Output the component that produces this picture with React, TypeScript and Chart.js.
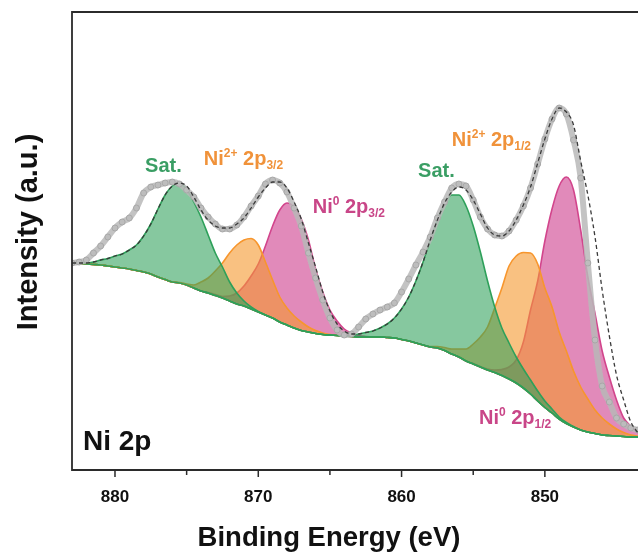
import React, { useEffect, useRef } from "react";
import { Chart, registerables } from "chart.js";

Chart.register(...registerables);

// Binding energy grid (eV)
const ENERGY = [
  883, 882.5, 882, 881.5, 881, 880.5, 880, 879.5, 879, 878.5,
  878, 877.5, 877, 876.5, 876, 875.5, 875, 874.5, 874, 873.5,
  873, 872.5, 872, 871.5, 871, 870.5, 870, 869.5, 869, 868.5,
  868, 867.5, 867, 866.5, 866, 865.5, 865, 864.5, 864, 863.5,
  863, 862.5, 862, 861.5, 861, 860.5, 860, 859.5, 859, 858.5,
  858, 857.5, 857, 856.5, 856, 855.5, 855, 854.5, 854, 853.5,
  853, 852.5, 852, 851.5, 851, 850.5, 850, 849.5, 849, 848.5,
  848, 847.5, 847, 846.5, 846, 845.5, 845, 844.5, 844, 843.5,
];

// Background (a.u.)
const BACKGROUND = [
  207, 206.5, 206, 205.5, 205, 204, 203, 202, 201, 199.5,
  198, 196, 193, 190.5, 188, 187, 185, 182, 179, 177,
  174.5, 172, 169, 166, 164, 161, 158, 155, 152, 148,
  145, 142, 139.5, 138, 136.5, 135.5, 135, 134.5, 134, 133.5,
  133, 133, 133, 133, 132.5, 132, 130.5, 129, 127, 125,
  123, 122, 119.5, 116, 113, 109, 106, 103, 100, 97.5,
  94.5, 91, 87, 82, 76, 69, 62.5, 57, 51, 46.5,
  43, 40, 38, 36.5, 35, 34.5, 34, 33.5, 33, 33,
];

// Fitted components: intensity above background (a.u.)
const SAT_1 = [
  0, 0.5, 1, 2.5, 5, 7.5, 11, 14, 19, 25.5,
  36, 50, 68, 84.5, 96, 100, 96, 86, 74, 58,
  42.5, 31, 19, 11, 5, 2, 0.5, 0, 0, 0,
  0, 0, 0, 0, 0, 0, 0, 0, 0, 0,
  0, 0, 0, 0, 0, 0, 0, 0, 0, 0,
  0, 0, 0, 0, 0, 0, 0, 0, 0, 0,
  0, 0, 0, 0, 0, 0, 0, 0, 0, 0,
  0, 0, 0, 0, 0, 0, 0, 0, 0, 0,
];

const NI2_2P32 = [
  0, 0, 0, 0, 0, 0, 0, 0, 0, 0,
  0, 0, 0, 0, 0, 0.5, 1, 3, 9, 15,
  24.5, 35, 48, 59, 66, 70.5, 67, 53, 38, 25,
  17, 12, 8.5, 5, 3, 1.5, 0.5, 0, 0, 0,
  0, 0, 0, 0, 0, 0, 0, 0, 0, 0,
  0, 0, 0, 0, 0, 0, 0, 0, 0, 0,
  0, 0, 0, 0, 0, 0, 0, 0, 0, 0,
  0, 0, 0, 0, 0, 0, 0, 0, 0, 0,
];

const NI0_2P32 = [
  0, 0, 0, 0, 0, 0, 0, 0, 0, 0,
  0, 0, 0, 0, 0, 0, 0, 0, 0, 0.5,
  1, 1.5, 5, 11, 20, 33, 48, 69, 92, 112,
  122, 121, 111.5, 92, 64.5, 42.5, 25, 14.5, 7, 3.5,
  1.5, 0.5, 0, 0, 0, 0, 0, 0, 0, 0,
  0, 0, 0, 0, 0, 0, 0, 0, 0, 0,
  0, 0, 0, 0, 0, 0, 0, 0, 0, 0,
  0, 0, 0, 0, 0, 0, 0, 0, 0, 0,
];

const SAT_2 = [
  0, 0, 0, 0, 0, 0, 0, 0, 0, 0,
  0, 0, 0, 0, 0, 0, 0, 0, 0, 0,
  0, 0, 0, 0, 0, 0, 0, 0, 0, 0,
  0, 0, 0, 0, 0, 0, 0, 0, 0, 1,
  3, 4.5, 6, 9, 13.5, 20, 30.5, 44, 62, 83,
  107, 128, 146.5, 159, 162, 155, 138, 115, 89, 65.5,
  47.5, 36, 26, 19, 14, 10, 6.5, 4, 2, 1,
  0.5, 0, 0, 0, 0, 0, 0, 0, 0, 0,
];

const NI2_2P12 = [
  0, 0, 0, 0, 0, 0, 0, 0, 0, 0,
  0, 0, 0, 0, 0, 0, 0, 0, 0, 0,
  0, 0, 0, 0, 0, 0, 0, 0, 0, 0,
  0, 0, 0, 0, 0, 0, 0, 0, 0, 0,
  0, 0, 0, 0, 0, 0, 0, 0, 0, 0,
  0.5, 1.5, 3, 5, 8, 12, 20, 30, 43, 64.5,
  87.5, 113, 127, 135.5, 141, 137, 119.5, 106, 87, 72.5,
  56, 43, 33, 23.5, 17, 11.5, 7, 4, 2, 1,
];

const NI0_2P12 = [
  0, 0, 0, 0, 0, 0, 0, 0, 0, 0,
  0, 0, 0, 0, 0, 0, 0, 0, 0, 0,
  0, 0, 0, 0, 0, 0, 0, 0, 0, 0,
  0, 0, 0, 0, 0, 0, 0, 0, 0, 0,
  0, 0, 0, 0, 0, 0, 0, 0, 0, 0,
  0, 0, 0, 0, 0, 0, 0.5, 0.5, 1, 2.5,
  6, 12, 23, 46, 84, 120, 166.5, 204, 233, 246.5,
  237, 200, 155, 120, 84, 58.5, 36, 18.5, 11, 4,
];

// Measured spectrum (a.u.)
const MEASURED = [
  207, 208, 210, 217, 224, 233, 242, 248, 252, 262,
  277, 283, 285, 287, 288, 286, 280, 273, 262, 253,
  246, 241, 241, 245, 253, 264, 274, 286, 290, 287,
  278, 262, 244, 217, 192, 170, 152, 140, 135, 136,
  143, 151, 156, 160, 163, 167, 178, 191, 205, 218,
  233, 252, 268, 282, 286, 284, 270, 253, 241, 235,
  234, 239, 250, 264, 282, 306, 331, 351, 362, 356,
  330, 292, 207, 130, 84, 68, 52, 46, 42, 40,
];

// Fit envelope (a.u.)
const ENVELOPE = [
  207, 207, 207, 208, 210, 211.5, 214, 216, 220, 225,
  234, 246, 261, 275, 284, 287, 284, 273, 260, 250,
  244, 242, 242, 246, 252, 262, 273, 282, 288, 288,
  282, 268, 251, 227, 203, 178, 159, 146, 139, 136,
  136, 137.5, 139, 142, 146, 152, 161, 173, 189, 208,
  230, 250, 267, 278, 283, 280, 270, 256, 242, 235,
  234, 239, 250, 265, 283, 307, 331, 351, 362, 358,
  345, 309, 275, 233, 180, 134, 95, 70, 48, 37,
];

const X_TICKS = [880, 875, 870, 865, 860, 855, 850];
const X_LABELED = [880, 870, 860, 850];
const X_MIN = 843.5;
const X_MAX = 883;
const Y_MAX = 458;
const ORANGE_BASE_FROM = 874.5; // baseline drawn in orange above this energy

const X_TITLE = "Binding Energy (eV)";
const Y_TITLE = "Intensity (a.u.)";
const PANEL_LABEL = "Ni 2p";

type Part = [string, "n" | "sup" | "sub"];
const LABELS: { e: number; i: number; kind: string; parts: Part[] }[] = [
  { e: 877.9, i: 298, kind: "green", parts: [["Sat.", "n"]] },
  { e: 873.8, i: 305, kind: "orange", parts: [["Ni", "n"], ["2+", "sup"], [" 2p", "n"], ["3/2", "sub"]] },
  { e: 866.2, i: 257, kind: "pink", parts: [["Ni", "n"], ["0", "sup"], [" 2p", "n"], ["3/2", "sub"]] },
  { e: 858.85, i: 293, kind: "green", parts: [["Sat.", "n"]] },
  { e: 856.5, i: 324, kind: "orange", parts: [["Ni", "n"], ["2+", "sup"], [" 2p", "n"], ["1/2", "sub"]] },
  { e: 854.6, i: 46, kind: "pink", parts: [["Ni", "n"], ["0", "sup"], [" 2p", "n"], ["1/2", "sub"]] },
];

const FONT = '"Liberation Sans", Arial, Helvetica, sans-serif';
const GREEN_FILL = "rgba(46,160,90,0.58)";
const GREEN_LINE = "#2ea05a";
const ORANGE_FILL = "rgba(245,152,45,0.6)";
const ORANGE_LINE = "#f7962d";
const PINK_FILL = "rgba(205,60,140,0.6)";
const PINK_LINE = "#d2458c";
const TEXT_COLORS: Record<string, string> = {
  green: "#3a9e64",
  orange: "#f0923a",
  pink: "#c94688",
};

const decorPlugin = {
  id: "decor",
  afterDraw(chart: any) {
    const { ctx, chartArea: a, scales } = chart;
    const xs = scales.x;
    const ys = scales.y;
    ctx.save();
    ctx.strokeStyle = "#2b2b2b";
    ctx.lineWidth = 1.8;
    ctx.beginPath();
    ctx.moveTo(a.right + 2, a.top);
    ctx.lineTo(a.left, a.top);
    ctx.lineTo(a.left, a.bottom);
    ctx.lineTo(a.right + 2, a.bottom);
    ctx.stroke();
    ctx.lineWidth = 1.5;
    ctx.beginPath();
    for (const v of X_TICKS) {
      const px = xs.getPixelForValue(v);
      const major = X_LABELED.includes(v);
      ctx.moveTo(px, a.bottom);
      ctx.lineTo(px, a.bottom + (major ? 7 : 5));
    }
    ctx.stroke();
    ctx.fillStyle = "#111";
    ctx.font = `bold 17px ${FONT}`;
    ctx.textAlign = "center";
    ctx.textBaseline = "alphabetic";
    for (const v of X_LABELED) {
      ctx.fillText(String(v), xs.getPixelForValue(v), a.bottom + 32);
    }
    ctx.font = `bold 27.5px ${FONT}`;
    ctx.fillText(X_TITLE, 329, a.bottom + 76);
    ctx.save();
    ctx.translate(37, 232);
    ctx.rotate(-Math.PI / 2);
    ctx.font = `bold 29px ${FONT}`;
    ctx.fillText(Y_TITLE, 0, 0);
    ctx.restore();
    ctx.textAlign = "left";
    ctx.font = `bold 28px ${FONT}`;
    ctx.fillStyle = "#111";
    ctx.fillText(PANEL_LABEL, 83, a.bottom - 20);
    for (const lab of LABELS) {
      let cx = xs.getPixelForValue(lab.e);
      const by = ys.getPixelForValue(lab.i);
      ctx.fillStyle = TEXT_COLORS[lab.kind];
      for (const [t, k] of lab.parts) {
        const size = k === "n" ? 20 : 12;
        const dy = k === "sup" ? -8 : k === "sub" ? 4 : 0;
        ctx.font = `bold ${size}px ${FONT}`;
        ctx.fillText(t, cx, by + dy);
        cx += ctx.measureText(t).width;
      }
    }
    ctx.restore();
  },
};

export default function App() {
  const ref = useRef<HTMLCanvasElement>(null);
  useEffect(() => {
    const canvas = ref.current;
    if (!canvas) return;
    const withBg = (h: number[]) => ENERGY.map((e, i) => ({ x: e, y: BACKGROUND[i] + h[i] }));
    const peak = (h: number[], fill: string, line: string, order: number) => ({
      data: withBg(h),
      borderColor: line,
      backgroundColor: fill,
      borderWidth: 1.6,
      fill: { target: 0 },
      pointRadius: 0,
      cubicInterpolationMode: "monotone" as const,
      order,
    });
    const bgPoints = ENERGY.map((e, i) => ({ x: e, y: BACKGROUND[i] }));
    const chart = new Chart(canvas, {
      type: "line",
      data: {
        datasets: [
          {
            data: bgPoints,
            borderColor: GREEN_LINE,
            borderWidth: 1.6,
            fill: false,
            pointRadius: 0,
            cubicInterpolationMode: "monotone",
            order: 2,
          },
          peak(SAT_1, GREEN_FILL, GREEN_LINE, 3),
          peak(NI2_2P32, ORANGE_FILL, ORANGE_LINE, 4),
          peak(NI0_2P32, PINK_FILL, PINK_LINE, 5),
          peak(SAT_2, GREEN_FILL, GREEN_LINE, 3),
          peak(NI2_2P12, ORANGE_FILL, ORANGE_LINE, 4),
          peak(NI0_2P12, PINK_FILL, PINK_LINE, 5),
          {
            data: bgPoints.filter((p) => p.x >= ORANGE_BASE_FROM),
            borderColor: ORANGE_LINE,
            borderWidth: 1.6,
            fill: false,
            pointRadius: 0,
            cubicInterpolationMode: "monotone",
            order: 2,
          },
          {
            data: ENERGY.map((e, i) => ({ x: e, y: MEASURED[i] })),
            borderColor: "rgba(185,185,185,0.85)",
            borderWidth: 6,
            fill: false,
            pointRadius: 3,
            pointBackgroundColor: "rgba(190,190,190,0.9)",
            pointBorderColor: "rgba(165,165,165,0.9)",
            pointBorderWidth: 1,
            cubicInterpolationMode: "monotone",
            order: 1,
          },
          {
            data: ENERGY.map((e, i) => ({ x: e, y: ENVELOPE[i] })),
            borderColor: "#3a3a3a",
            borderWidth: 1.3,
            borderDash: [4, 3],
            fill: false,
            pointRadius: 0,
            cubicInterpolationMode: "monotone",
            order: 0,
          },
        ],
      },
      options: {
        animation: false,
        responsive: false,
        devicePixelRatio: 1,
        layout: { autoPadding: false, padding: { left: 72, top: 12, right: 0, bottom: 86 } },
        plugins: {
          legend: { display: false },
          tooltip: { enabled: false },
          filler: { propagate: false },
        },
        scales: {
          x: { type: "linear", reverse: true, min: X_MIN, max: X_MAX, display: false },
          y: { type: "linear", min: 0, max: Y_MAX, display: false },
        },
      },
      plugins: [decorPlugin],
    } as any);
    return () => chart.destroy();
  }, []);
  return (
    <div style={{ position: "fixed", left: 0, top: 0, width: 638, height: 556, background: "#fff" }}>
      <canvas ref={ref} width={638} height={556} style={{ display: "block", width: 638, height: 556 }} />
    </div>
  );
}
